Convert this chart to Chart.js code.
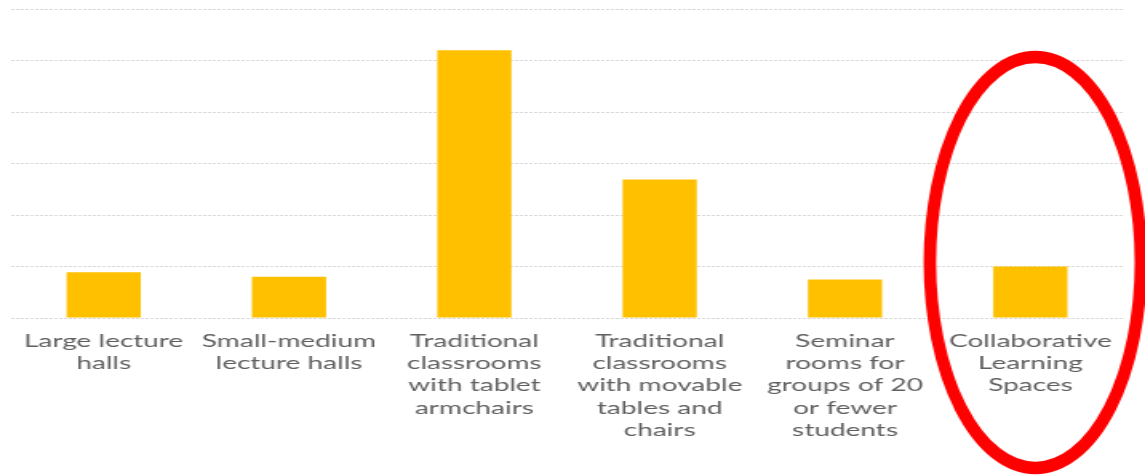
<!DOCTYPE html>
<html>
<head>
<meta charset="utf-8">
<script src="https://cdn.jsdelivr.net/npm/chart.js@4/dist/chart.umd.min.js"></script>
<style>
  html, body { margin: 0; padding: 0; background: #ffffff; overflow: hidden; }
  #stage { width: 1145px; height: 476px; overflow: hidden; }
  #wrap { position: relative; width: 716px; height: 476px; transform-origin: 0 0; }
</style>
</head>
<body>
<div id="stage"><div id="wrap"><canvas id="chart"></canvas></div></div>
<script>
// Room types surveyed and the share reported for each
const categories = [
  ["Large lecture", "halls"],
  ["Small-medium", "lecture halls"],
  ["Traditional", "classrooms", "with tablet", "armchairs"],
  ["Traditional", "classrooms", "with movable", "tables and", "chairs"],
  ["Seminar", "rooms for", "groups of 20", "or fewer", "students"],
  ["Collaborative", "Learning", "Spaces"]
];
const values = [8.9, 8.0, 52.0, 26.9, 7.5, 10.0];
const yTicks = [0, 10, 20, 30, 40, 50, 60];
const highlightIndex = 5;

// The drawing is laid out narrow and widened horizontally on screen.
const FULL_W = 1145;
const wrap = document.getElementById('wrap');
const S = FULL_W / wrap.offsetWidth;
wrap.style.transform = 'scaleX(' + S + ')';

// Red ring around the highlighted category, drawn in on-screen pixels.
const ringPlugin = {
  id: 'ring',
  afterDraw(chart, args, opts) {
    const ctx = chart.ctx;
    const cx = chart.scales.x.getPixelForValue(opts.index) * S + opts.dx;
    ctx.save();
    ctx.scale(1 / S, 1);
    ctx.beginPath();
    ctx.ellipse(cx, opts.cy, opts.rx, opts.ry, 0, 0, Math.PI * 2);
    ctx.lineWidth = opts.width;
    ctx.strokeStyle = opts.color;
    ctx.stroke();
    ctx.restore();
  }
};

new Chart(document.getElementById('chart'), {
  type: 'bar',
  data: {
    labels: categories,
    datasets: [{
      data: values,
      backgroundColor: '#FFC000',
      borderWidth: 0,
      categoryPercentage: 1.0,
      barPercentage: 0.4
    }]
  },
  options: {
    responsive: true,
    maintainAspectRatio: false,
    animation: false,
    events: [],
    layout: { padding: { left: 11 / S, right: 22 / S, top: 9, bottom: 0 } },
    plugins: {
      legend: { display: false },
      tooltip: { enabled: false },
      ring: { index: highlightIndex, dx: 5, cy: 262.5, rx: 105.5, ry: 205.5, width: 12.5, color: '#FF0000' }
    },
    scales: {
      x: {
        grid: { display: false, drawTicks: false },
        border: { display: false },
        ticks: {
          autoSkip: false,
          maxRotation: 0,
          minRotation: 0,
          padding: 12,
          color: '#5f5f5f',
          font: { family: 'Lato', size: 17.5, lineHeight: '22.3px' }
        },
        afterFit(axis) { axis.height = 476 - 318; }
      },
      y: {
        min: yTicks[0],
        max: yTicks[yTicks.length - 1],
        afterBuildTicks(axis) { axis.ticks = yTicks.map(v => ({ value: v })); },
        ticks: { display: false },
        grid: { color: '#d9d9d9', lineWidth: 1, drawTicks: false },
        border: { display: false, dash: [2, 1] },
        afterFit(axis) { axis.width = 0; }
      }
    }
  },
  plugins: [ringPlugin]
});
</script>
</body>
</html>
